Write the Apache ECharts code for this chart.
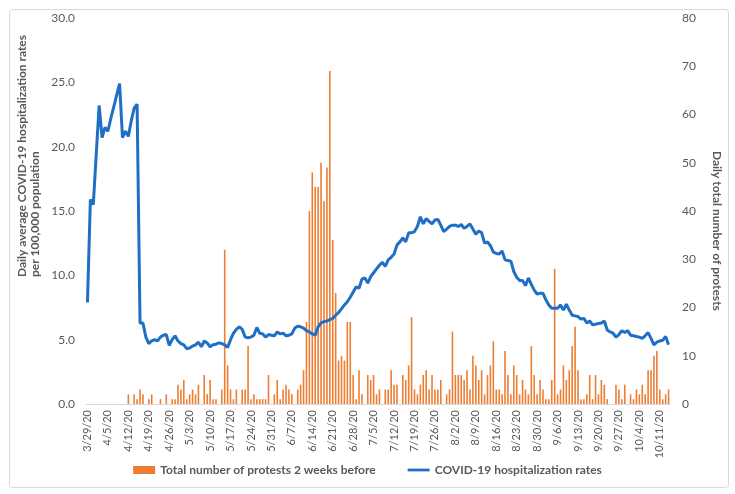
<!DOCTYPE html>
<html>
	<head>
		<meta charset="UTF-8">
		<title></title>
		<style>
			body { margin: 0; background: #fff; }
		</style>
	</head>
	<body>
		<div id="chart1" style="height: 494px;width: 735px;"></div>
		<script src="https://cdn.jsdelivr.net/npm/echarts@6/dist/echarts.min.js"></script>
		<script type="text/javascript">
			// first day of the series, one category per day
			var startDay = [2020, 2, 29];
			var dayCount = 200;

			// hospitalization rate per 100,000 (left axis)
			var hospRates = [
				7.9, 15.9, 15.5, 19.4, 23.2, 20.7, 21.5, 21.2, 22.2, 23.1,
				24.0, 24.9, 20.7, 21.2, 20.8, 22.0, 23.0, 23.3, 6.3, 6.3,
				5.2, 4.7, 4.9, 5.0, 4.9, 5.2, 5.35, 5.4, 4.55, 5.0,
				5.3, 4.9, 4.7, 4.6, 4.3, 4.35, 4.5, 4.6, 4.8, 4.45,
				4.9, 4.75, 4.45, 4.6, 4.65, 4.75, 4.7, 4.6, 4.4, 5.0,
				5.5, 5.8, 6.0, 5.8, 5.2, 5.15, 5.2, 5.35, 5.95, 5.5,
				5.45, 5.2, 5.4, 5.35, 5.3, 5.6, 5.45, 5.5, 5.3, 5.35,
				5.45, 5.9, 6.05, 6.0, 5.9, 5.7, 5.6, 5.45, 5.35, 6.0,
				6.3, 6.4, 6.45, 6.55, 6.65, 6.9, 7.1, 7.4, 7.7, 7.95,
				8.3, 8.7, 9.1, 9.0, 9.7, 9.8, 9.4, 9.9, 10.2, 10.5,
				10.8, 11.0, 10.7, 11.2, 11.4, 11.65, 12.35, 12.6, 12.9, 12.6,
				13.3, 13.3, 13.4, 13.8, 14.55, 14.0, 14.4, 14.2, 14.0, 14.3,
				14.35, 13.9, 13.4, 13.6, 13.8, 13.9, 13.9, 13.8, 13.95, 13.65,
				13.8, 14.0, 13.6, 13.2, 13.45, 13.3, 12.5, 12.6, 12.3, 11.8,
				11.7, 11.65, 11.9, 11.2, 11.15, 11.1, 10.3, 9.85, 9.6, 9.6,
				9.2, 9.8, 9.3, 8.85, 8.55, 8.6, 8.6, 8.1, 7.7, 7.45,
				7.45, 7.45, 7.7, 7.3, 7.75, 7.3, 6.9, 6.85, 6.8, 6.6,
				6.65, 6.3, 6.45, 6.15, 6.2, 6.25, 6.3, 6.45, 5.75, 5.6,
				5.5, 5.2, 5.4, 5.7, 5.55, 5.7, 5.35, 5.3, 5.25, 5.2,
				5.1, 5.3, 5.55, 5.1, 4.6, 4.8, 4.9, 4.95, 5.25, 4.6
			];

			// protests 2 weeks before (right axis)
			var protests = [
				0, 0, 0, 0, 0, 0, 0, 0, 0, 0,
				0, 0, 0, 0, 2, 0, 2, 1, 3, 2,
				0, 1, 2, 0, 0, 1, 0, 2, 0, 1,
				1, 4, 3, 5, 1, 2, 3, 2, 4, 0,
				6, 2, 5, 1, 1, 0, 3, 32, 8, 3,
				1, 3, 0, 3, 3, 12, 1, 2, 1, 1,
				1, 1, 6, 0, 2, 5, 1, 3, 4, 3,
				2, 0, 3, 4, 7, 17, 40, 48, 45, 45,
				50, 42, 49, 69, 34, 23, 9, 10, 9, 17,
				17, 6, 1, 7, 2, 0, 6, 5, 6, 2,
				3, 0, 3, 3, 7, 4, 4, 0, 6, 5,
				8, 18, 3, 2, 4, 6, 7, 3, 6, 3,
				3, 5, 0, 2, 3, 15, 6, 6, 6, 5,
				7, 3, 10, 8, 5, 7, 2, 6, 8, 13,
				3, 3, 2, 11, 6, 2, 8, 6, 2, 5,
				3, 2, 12, 6, 2, 5, 3, 1, 1, 5,
				28, 2, 3, 8, 5, 7, 12, 16, 7, 1,
				1, 2, 6, 1, 6, 2, 5, 4, 1, 0,
				0, 4, 3, 1, 4, 0, 2, 1, 3, 2,
				4, 2, 7, 7, 10, 11, 3, 1, 2, 3
			];

			var leftTicks = {min: 0, max: 30, step: 5};
			var rightTicks = {min: 0, max: 80, step: 10};

			var dates = [];
			for (var i = 0; i < dayCount; i++) {
				var d = new Date(startDay[0], startDay[1], startDay[2] + i);
				dates.push((d.getMonth() + 1) + '/' + d.getDate() + '/20');
			}

			var txtColor = '#595959';
			var font = 'Lato, "Open Sans", sans-serif';

			var my_chart = echarts.init(document.getElementById('chart1'));
			var option = {
				backgroundColor: '#fff',
				textStyle: { fontFamily: font },
				grid: {
					left: 86,
					right: 65,
					top: 18,
					bottom: 90,
					outerBoundsMode: 'none'
				},
				legend: {
					left: 'center',
					top: 459,
					itemWidth: 22,
					itemHeight: 8,
					itemGap: 32,
					textStyle: {
						color: txtColor,
						fontSize: 12,
						fontWeight: 'bold',
						fontFamily: font
					},
					data: [
						{ name: 'Total number of protests 2 weeks before', icon: 'rect' },
						{ name: 'COVID-19 hospitalization rates', icon: 'path://M0,0H24V3H0Z' }
					]
				},
				graphic: [{
					type: 'rect',
					left: 7,
					top: 7,
					shape: { width: 719, height: 478, r: 3 },
					style: { fill: 'none', stroke: '#d9d9d9', lineWidth: 1 },
					silent: true
				}, {
					// left axis title, box placed by its corner
					type: 'text',
					left: 16,
					top: 35,
					rotation: Math.PI / 2,
					style: {
						text: 'Daily average COVID-19 hospitalization rates\nper 100,000 population',
						fill: txtColor,
						font: 'bold 12px ' + font,
						align: 'center',
						verticalAlign: 'middle',
						lineHeight: 13
					}
				}, {
					type: 'text',
					left: 711,
					top: 151,
					rotation: -Math.PI / 2,
					style: {
						text: 'Daily total number of protests',
						fill: txtColor,
						font: 'bold 12px ' + font,
						align: 'center',
						verticalAlign: 'middle'
					}
				}],
				xAxis: [{
					type: 'category',
					data: dates,
					boundaryGap: true,
					axisTick: { show: false },
					axisLine: {
						lineStyle: { color: '#d9d9d9', width: 1 }
					},
					axisLabel: {
						interval: 6,
						rotate: 90,
						margin: 6,
						color: txtColor,
						fontSize: 11,
						fontFamily: font
					}
				}],
				yAxis: [{
					type: 'value',
					min: leftTicks.min,
					max: leftTicks.max,
					interval: leftTicks.step,
					axisLine: { show: false },
					axisTick: { show: false },
					splitLine: { show: false },
					axisLabel: {
						margin: 11,
						color: txtColor,
						fontSize: 12,
						fontFamily: font,
						formatter: function(v) { return v.toFixed(1); }
					}
				}, {
					type: 'value',
					position: 'right',
					min: rightTicks.min,
					max: rightTicks.max,
					interval: rightTicks.step,
					axisLine: { show: false },
					axisTick: { show: false },
					splitLine: { show: false },
					axisLabel: {
						margin: 12,
						color: txtColor,
						fontSize: 12,
						fontFamily: font
					}
				}],
				series: [{
					name: 'Total number of protests 2 weeks before',
					type: 'bar',
					yAxisIndex: 1,
					barWidth: 1.6,
					itemStyle: { color: '#ED7D31' },
					data: protests
				}, {
					name: 'COVID-19 hospitalization rates',
					type: 'line',
					yAxisIndex: 0,
					z: 3,
					showSymbol: false,
					symbol: 'none',
					itemStyle: { color: '#1f6fc6' },
					lineStyle: { color: '#1f6fc6', width: 3 },
					data: hospRates
				}]
			};
			my_chart.setOption(option);
		</script>
	</body>
</html>
